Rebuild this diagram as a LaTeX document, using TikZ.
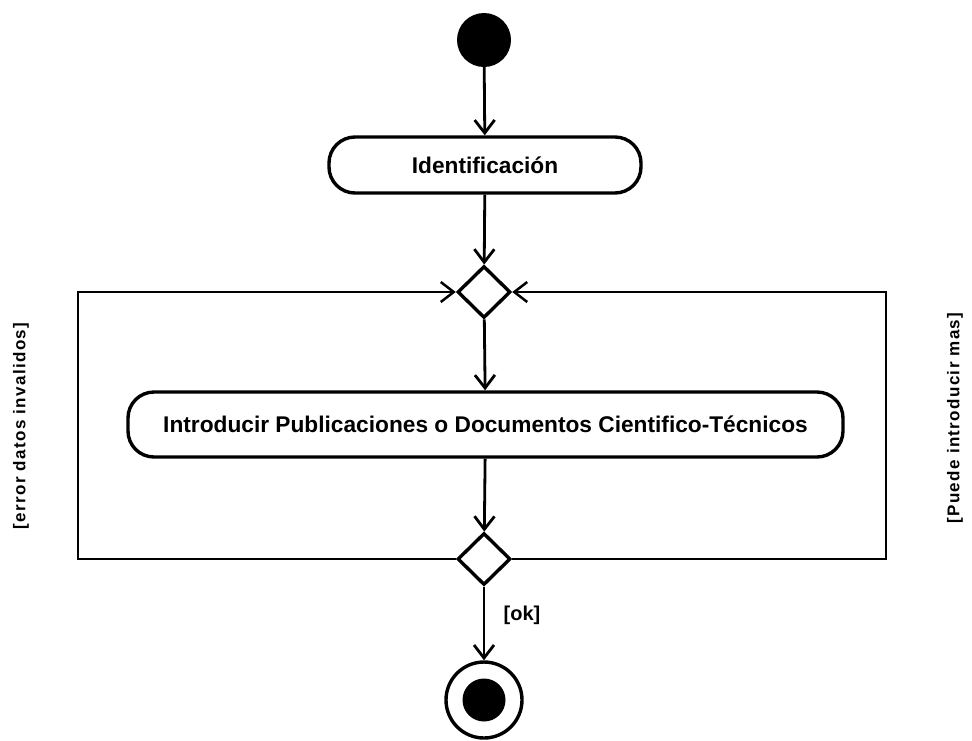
\documentclass[tikz,border=0pt]{standalone}
\usepackage{fontspec}
\setmainfont{Liberation Sans}
\usetikzlibrary{shapes.geometric,arrows.meta}
\begin{document}
\begin{tikzpicture}[x=1pt,y=-1pt,
  conn/.style={line width=2.8pt,line join=miter,-{Straight Barb[length=13pt,width=20pt]}},
  loopline/.style={line width=2.5pt,line join=miter,-{Straight Barb[length=13pt,width=20pt]}},
  startnode/.style={circle,fill=black,minimum size=54pt,inner sep=0pt},
  act/.style={draw,line width=3.4pt,rounded corners=26pt,minimum height=56pt,inner sep=0pt,
    font=\fontsize{22.7}{26}\selectfont\bfseries},
  dec/.style={diamond,draw,line width=3.4pt,fill=white,minimum width=53pt,minimum height=52pt,inner sep=0pt},
  endouter/.style={circle,draw,line width=3.4pt,minimum size=76pt,inner sep=0pt},
  endinner/.style={circle,fill=black,minimum size=43pt,inner sep=0pt},
  lbl/.style={font=\fontsize{17}{19}\selectfont\bfseries\addfontfeature{LetterSpace=8},inner sep=0pt},
  oklbl/.style={font=\fontsize{20}{22}\selectfont\bfseries,inner sep=0pt}
]
\useasboundingbox (0,0) rectangle (972,740);
\node[startnode] (start) at (484,40) {};
\node[act,minimum width=312pt] (ident) at (485,165) {Identificación};
\node[dec] (d1) at (484,292) {};
\node[act,minimum width=715pt,minimum height=65pt] (intro) at (485.5,424.5)
  {Introducir Publicaciones o Documentos Cientifico-Técnicos};
\node[dec] (d2) at (484,559) {};
\node[endouter] (end) at (484,700) {};
\node[endinner] (endin) at (484,700) {};
\coordinate (bl) at (78,559);
\coordinate (tl) at (78,292);
\coordinate (br) at (886,559);
\coordinate (tr) at (886,292);
\draw[conn] (start) -- (ident);
\draw[conn] (ident) -- (d1);
\draw[conn] (d1) -- (intro);
\draw[conn] (intro) -- (d2);
\draw[conn] (d2) -- (end);
\draw[loopline] (d2.west) -- (bl) -- (tl) -- (d1.west);
\draw[loopline] (d2.east) -- (br) -- (tr) -- (d1.east);
\node[lbl,rotate=90] (lerr) at (21,426) {[error datos invalidos]};
\node[lbl,rotate=90] (lmas) at (955,418) {[Puede introducir mas]};
\node[oklbl] (ok) at (522,615) {[ok]};
\end{tikzpicture}
\end{document}
